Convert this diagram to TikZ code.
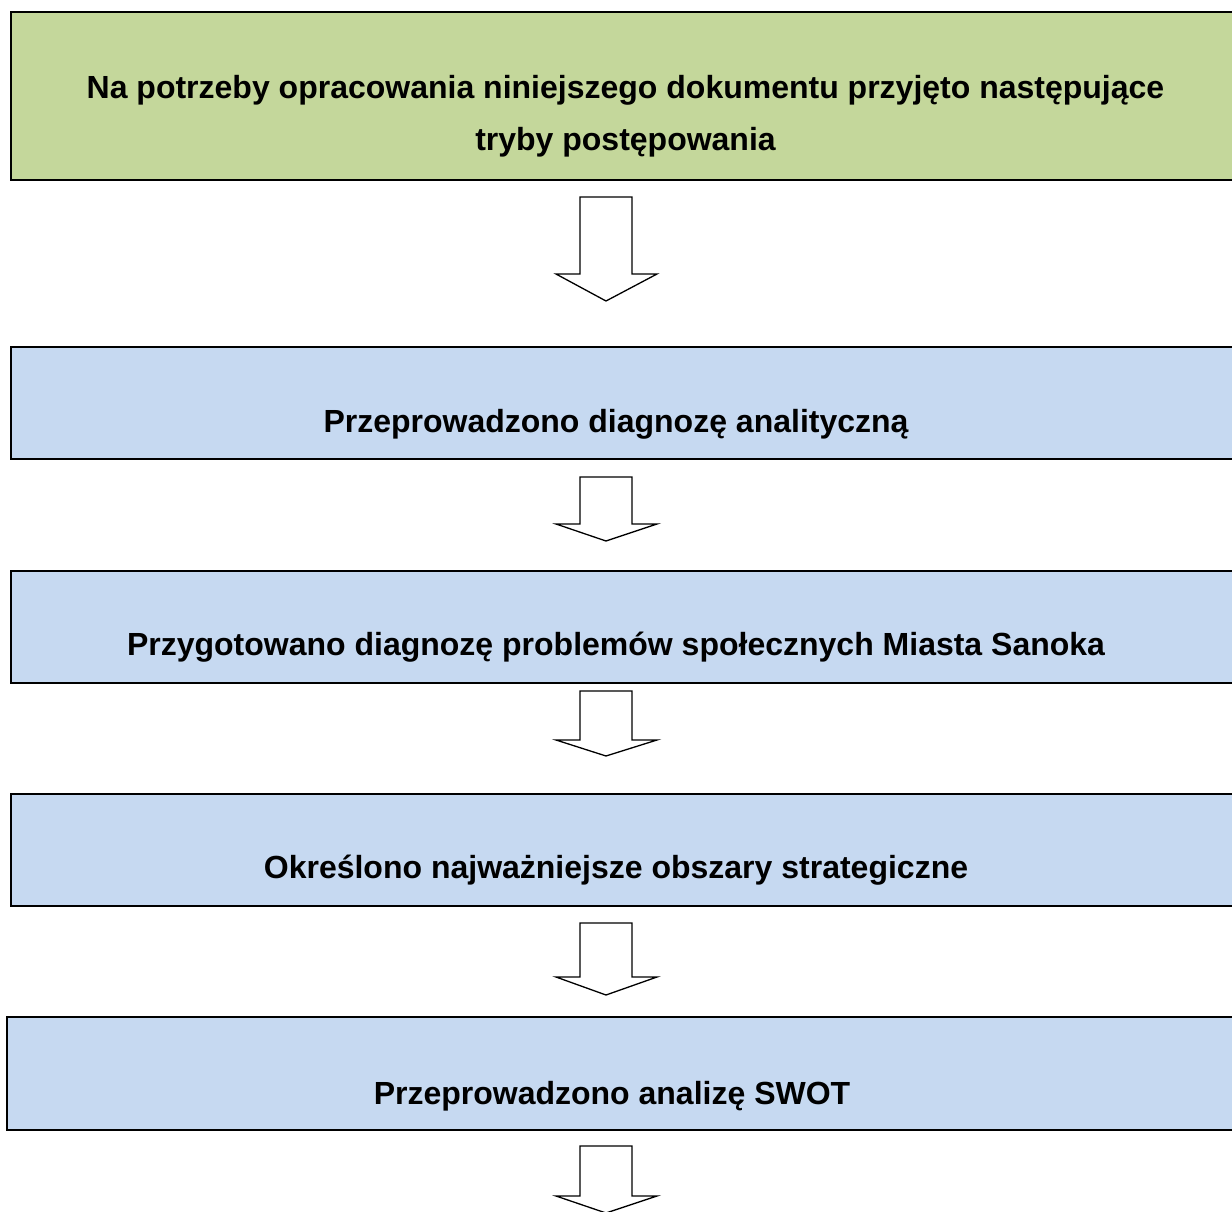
\documentclass[tikz,border=0pt]{standalone}
\usepackage{fontspec}
\setmainfont{Liberation Sans}
\definecolor{boxgreen}{HTML}{C4D79B}
\definecolor{boxblue}{HTML}{C6D9F1}
\newcommand{\blockarrow}[4]{% name, top y, head y, tip y
  \draw[arrowshape] (580,#2) -- (632,#2) -- (632,#3) -- (657,#3) -- (606,#4) -- (556,#3) -- (580,#3) -- cycle;
  \coordinate (#1) at (606,#2);}
\begin{document}
\begin{tikzpicture}[x=1pt,y=-1pt,
  stagebox/.style={draw=black,line width=2pt},
  stagetext/.style={anchor=base,inner sep=0pt,font=\fontsize{32}{52}\selectfont\bfseries,align=center},
  arrowshape/.style={draw=black,fill=white,line width=1.3pt,line join=miter}]
\useasboundingbox (0,0) rectangle (1232,1212);
\clip (0,0) rectangle (1232,1212);
\fill[white] (0,0) rectangle (1232,1212);
% boxes
\draw[stagebox,fill=boxgreen] (11,12) rectangle (1245,180);
\draw[stagebox,fill=boxblue] (11,347) rectangle (1245,459);
\draw[stagebox,fill=boxblue] (11,571) rectangle (1245,683);
\draw[stagebox,fill=boxblue] (11,794) rectangle (1245,906);
\draw[stagebox,fill=boxblue] (7,1017) rectangle (1245,1130);
% texts
\node[stagetext] (t1a) at (625.5,99) {Na potrzeby opracowania niniejszego dokumentu przyjęto następujące};
\node[stagetext] (t1b) at (625.5,151) {tryby postępowania};
\node[stagetext] (t2) at (616,432) {Przeprowadzono diagnozę analityczną};
\node[stagetext] (t3) at (616,655) {Przygotowano diagnozę problemów społecznych Miasta Sanoka};
\node[stagetext] (t4) at (616,878) {Określono najważniejsze obszary strategiczne};
\node[stagetext] (t5) at (612,1104) {Przeprowadzono analizę SWOT};
% arrows
\blockarrow{a1}{197}{274}{301}
\blockarrow{a2}{477}{524}{541}
\blockarrow{a3}{691}{740}{756}
\blockarrow{a4}{923}{977}{995}
\blockarrow{a5}{1146}{1196}{1213}
\end{tikzpicture}
\end{document}
